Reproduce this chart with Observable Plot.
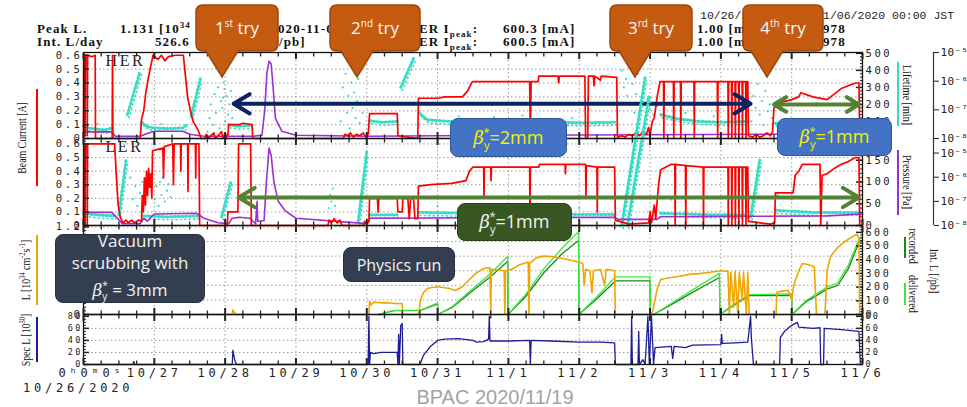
<!DOCTYPE html>
<html><head><meta charset="utf-8">
<script src="https://cdn.jsdelivr.net/npm/d3@7"></script>
<script src="https://cdn.jsdelivr.net/npm/@observablehq/plot@0.6"></script>
<style>
html,body{margin:0;padding:0;background:#fff;}
#root{position:relative;width:967px;height:407px;overflow:hidden;background:#fff;}
.t{position:absolute;white-space:nowrap;line-height:12px;}
.hdr{font-family:'Liberation Serif',serif;font-weight:bold;font-size:13px;letter-spacing:1.1px;color:#111;}
.mono{font-family:'Liberation Mono',monospace;font-size:11.5px;color:#222;}
.rot{position:absolute;white-space:nowrap;font-family:'Liberation Serif',serif;font-size:12px;color:#111;line-height:12px;}
.bar{position:absolute;width:2px;}
.box{position:absolute;box-sizing:border-box;border-radius:8px;display:flex;align-items:center;justify-content:center;text-align:center;font-family:'Open Sans',sans-serif;border-width:1.5px;border-style:solid;}
.beta{font-size:18px;}
.beta i{font-family:'DejaVu Serif',serif;font-style:italic;}
.beta sub{font-size:11px;vertical-align:-5px;}
.beta sup{font-size:11px;vertical-align:8px;margin-left:-6px;}
</style></head>
<body><div id="root"></div>
<script>
// ---------------- data ----------------
const xLabels = ["0ʰ0ᵐ0ˢ","10/27","10/28","10/29","10/30","10/31","11/1","11/2","11/3","11/4","11/5","11/6"];
const dayTicks = d3.range(0, 12);
const minorTicks = d3.range(0, 44).map(i => i / 4).filter(d => d % 1 !== 0);

const herCurrent = [[0,0],[0.005,0.6],[0.018,0.6],[0.02,0.02],[0.025,0.6],[0.05,0.6],[0.053,0.02],[0.058,0.6],[0.12,0.59],[0.165,0.6],[0.17,0],
[0.405,0],[0.41,0.6],[0.415,0],
[0.8,0],[0.82,0.14],[0.85,0.2],[0.88,0.33],[0.91,0.42],[0.94,0.5],[0.97,0.57],[0.98,0.6],[1.05,0.57],[1.1,0.6],[1.15,0.56],[1.2,0.59],[1.3,0.6],[1.41,0.6],[1.44,0.45],[1.47,0.3],[1.51,0.2],[1.55,0.12],[1.62,0.06],[1.66,0],
[1.72,0],[1.73,0.03],[1.75,0],[1.8,0.02],[1.84,0.04],[1.86,0],[1.92,0.03],[1.95,0.05],[1.97,0],[2.0,0.04],[2.02,0.01],[2.04,0.03],[2.05,0.1],[2.2,0.1],[2.25,0.11],[2.38,0.1],[2.39,0],
[3.67,0],[3.69,0.03],[3.73,0.02],[3.77,0.04],[3.81,0.01],[3.85,0.03],[3.9,0.02],[3.95,0.04],[3.99,0.01],[4.02,0.03],[4.04,0.18],[4.43,0.18],[4.44,0.02],[4.72,0],
[4.73,0.29],[5.0,0.29],[5.1,0.3],[5.35,0.3],[5.42,0.34],[5.49,0.41],[5.8,0.41],[6.3,0.41],[6.31,0],[6.32,0.41],[6.42,0.41],[6.43,0.45],[6.7,0.45],[6.71,0.4],[6.72,0.45],[7.08,0.45],[7.09,0],[7.12,0],[7.13,0.45],[7.2,0.45],[7.21,0.38],[7.22,0.45],[7.3,0.42],[7.31,0.45],[7.53,0.44],[7.54,0.01],
[7.6,0.02],[7.65,0.01],[7.7,0.03],[7.75,0.02],[7.8,0.04],[7.85,0.02],[7.9,0.05],[7.95,0.03],[7.98,0.08],[8.0,0.02],[8.03,0.12],[8.06,0.15],[8.1,0.3],[8.14,0.41],[8.19,0.41],[8.195,0],[8.2,0.41],[8.33,0.41],[8.335,0],[8.34,0.41],[8.43,0.41],[8.435,0],[8.44,0.41],[8.62,0.41],[8.625,0],[8.63,0.41],[8.95,0.41],[8.955,0],[8.96,0.41],[9.1,0.41],[9.105,0],[9.11,0.41],[9.15,0.41],[9.155,0],[9.16,0.41],[9.2,0.41],[9.205,0],[9.21,0.41],[9.25,0.41],[9.255,0],[9.26,0.41],[9.3,0.41],[9.305,0],[9.31,0.41],[9.35,0.41],[9.355,0],[9.36,0.41],[9.38,0.41],[9.39,0.02],
[9.45,0.01],[9.5,0.03],[9.55,0.01],[9.6,0.02],[9.65,0.04],[9.7,0.02],[9.73,0.05],[9.75,0.22],[9.85,0.26],[10.0,0.28],[10.1,0.3],[10.13,0.33],[10.3,0.3],[10.5,0.28],[10.6,0.32],[10.7,0.36],[10.8,0.38],[10.9,0.4],[10.95,0.4],[10.96,0]];

const lerCurrent = [[0,0],[0.005,0.6],[0.018,0.6],[0.02,0],[0.025,0.6],[0.05,0.6],[0.053,0],[0.058,0.6],[0.44,0.6],[0.46,0.4],[0.49,0.15],[0.52,0.06],[0.56,0.02],[0.6,0.04],[0.63,0.02],[0.68,0.04],[0.72,0.02],[0.78,0.04],[0.82,0.03],[0.83,0.22],[0.845,0.1],[0.86,0.35],[0.875,0.15],[0.89,0.4],[0.905,0.22],[0.92,0.42],[0.935,0.28],[0.95,0.38],[0.965,0.2],[0.975,0.55],[1.05,0.56],[1.12,0.57],[1.13,0.35],[1.14,0.58],[1.26,0.6],[1.27,0.3],[1.28,0.6],[1.37,0.6],[1.375,0.4],[1.38,0.6],[1.47,0.6],[1.475,0.25],[1.48,0.6],[1.58,0.6],[1.585,0.35],[1.59,0.6],[1.63,0.6],[1.64,0],
[2.03,0],[2.04,0.1],[2.18,0.1],[2.19,0.6],[2.36,0.6],[2.37,0],
[3.45,0],[3.47,0.04],[3.5,0.02],[3.54,0.05],[3.58,0.02],[3.62,0.04],[3.65,0],[3.95,0],[3.97,0.03],[4.0,0.01],[4.03,0.03],[4.04,0.2],[4.15,0.2],[4.16,0.1],[4.17,0.2],[4.43,0.2],[4.44,0.1],[4.5,0.1],[4.51,0.2],[4.58,0.2],[4.6,0.05],[4.62,0.2],[4.66,0.2],[4.68,0.05],[4.72,0.05],[4.73,0.29],[4.9,0.3],[5.2,0.31],[5.4,0.33],[5.45,0.4],[5.5,0.43],[5.65,0.43],[5.655,0.2],[5.66,0.43],[5.75,0.43],[5.755,0.33],[5.76,0.43],[6.3,0.43],[6.305,0],[6.31,0.43],[6.43,0.43],[6.44,0.45],[6.8,0.45],[6.805,0.38],[6.81,0.45],[7.09,0.45],[7.095,0.2],[7.1,0.44],[7.25,0.43],[7.255,0.1],[7.26,0.43],[7.5,0.43],[7.51,0.04],[7.7,0.01],[7.98,0.02],[8.0,0.1],[8.02,0.02],[8.06,0.15],[8.08,0.05],[8.12,0.3],[8.15,0.41],[8.3,0.45],[8.35,0.45],[8.355,0],[8.36,0.45],[8.5,0.44],[8.505,0],[8.51,0.44],[8.75,0.43],[8.755,0],[8.76,0.43],[9.1,0.43],[9.105,0],[9.11,0.43],[9.15,0.43],[9.155,0],[9.16,0.43],[9.2,0.43],[9.205,0],[9.21,0.43],[9.25,0.43],[9.255,0],[9.26,0.43],[9.3,0.43],[9.305,0],[9.31,0.43],[9.35,0.43],[9.355,0],[9.36,0.43],[9.38,0.43],[9.39,0.03],[9.7,0.01],[9.76,0.02],[9.77,0.24],[10.02,0.24],[10.05,0.37],[10.1,0.4],[10.15,0.45],[10.4,0.45],[10.41,0],[10.43,0.37],[10.5,0.38],[10.6,0.42],[10.7,0.45],[10.8,0.47],[10.9,0.5],[10.95,0.5],[10.96,0]];

// lifetime [min]: dotted bands / streaks (series key) and scattered dots
const herLifeLines = [[0,75,"a"],[0.08,60,"a"],[0.2,55,"a"],[0.3,50,"a"],[0.4,62,"a"],
[0.62,140,"b"],[0.8,395,"b"],
[0.82,95,"c"],[0.9,70,"c"],[1.0,62,"c"],[1.2,58,"c"],[1.4,62,"c"],[1.46,80,"c"],
[1.52,130,"d"],[1.65,350,"d"],
[2.05,80,"e"],[2.2,72,"e"],[2.38,78,"e"],
[4.04,105,"f"],[4.2,95,"f"],[4.43,100,"f"],
[4.48,300,"g"],[4.66,470,"g"],
[4.74,150,"h"],[4.85,110,"h"],[5.2,100,"h"],[5.6,95,"h"],[6.0,105,"h"],[6.5,100,"h"],[7.0,92,"h"],[7.5,95,"h"],
[8.15,140,"i"],[8.4,115,"i"],[8.7,100,"i"],[9.0,95,"i"],[9.38,100,"i"],
[9.77,90,"j"],[10.0,70,"j"],[10.5,65,"j"],[10.95,70,"j"]];
const herLifeDots = [[1.75,40],[1.78,120],[1.8,200],[1.83,80],[1.85,260],[1.87,150],[1.9,300],[1.92,60],[1.94,220],[1.96,180],[1.97,240],[1.98,330],[1.99,290],[2.0,100],[2.02,250],[2.04,140],[2.06,200],[2.08,280],[2.1,120],
[3.63,100],[3.66,300],[3.68,200],[3.7,380],[3.72,150],[3.74,250],[3.76,60],[3.78,330],[3.8,180],[3.82,270],[3.84,120],[3.86,220],[3.88,350],[3.9,90],[3.92,200],[3.94,150],
[7.6,400],[7.63,300],[7.66,350],[7.68,250],[7.7,420],[7.73,200],[7.75,320],[7.78,150],[7.8,260],[7.83,380],[7.86,180],[7.9,300],[7.93,120],[7.96,230],[8.0,170],[8.05,140],[8.1,190],
[9.43,100],[9.46,250],[9.49,180],[9.52,320],[9.55,140],[9.58,220],[9.6,80],[9.63,280],[9.66,160],[9.69,200],[9.72,120],
[5.3,130],[5.8,125],[6.2,135],[6.9,120],[8.5,150],[8.9,130],[10.2,95],[10.7,90],[1.1,85],[0.2,85]];
const lerLifeLines = [[0,28,"a"],[0.2,24,"a"],[0.44,22,"a"],
[0.5,25,"b"],[0.6,150,"b"],
[0.85,22,"c"],[1.2,20,"c"],[1.63,22,"c"],
[1.95,20,"d"],[2.08,100,"d"],
[3.88,10,"e"],[4.0,170,"e"],
[4.04,25,"f"],[4.43,25,"f"],
[4.73,30,"g"],[5.5,28,"g"],[6.5,26,"g"],[7.5,25,"g"],
[7.6,0,"h"],[7.93,340,"h"],
[7.68,0,"k"],[7.99,300,"k"],
[8.15,28,"i"],[8.8,25,"i"],[9.38,24,"i"],
[9.42,20,"l"],[9.55,150,"l"],
[9.77,35,"j"],[10.3,30,"j"],[10.95,30,"j"]];
const lerLifeDots = [[0.66,110],[0.7,60],[0.73,90],[0.76,45],[0.8,75],[0.83,100],[1.0,60],[1.03,90],[1.06,45],[1.08,100],[1.1,70],[1.12,110],[1.15,55],[1.18,80],[1.2,95],[1.23,65],[3.46,40],[3.48,70],[3.5,55],[3.52,85],[3.55,45],[8.3,60],[8.5,55],[9.8,70],[10.0,60],[5.0,45],[6.0,42],[7.0,40]];

// pressure [Pa]
const herPressure = [[0,1.7e-8],[0.4,1.7e-8],[0.45,1.2e-8],[0.8,1.2e-8],[0.9,1.5e-8],[1.0,1.8e-8],[1.4,1.8e-8],[1.5,1.4e-8],[1.7,1.2e-8],[2.4,1.2e-8],[2.52,1.3e-8],[2.56,1e-7],[2.59,2e-6],[2.62,5e-6],[2.65,4e-6],[2.68,5e-7],[2.71,5e-8],[2.8,1.8e-8],[3.0,1.3e-8],[4.0,1.2e-8],[6.0,1.3e-8],[8.0,1.35e-8],[11,1.45e-8]];
const lerPressure = [[0,3.5e-8],[0.4,3.5e-8],[0.48,2e-8],[0.55,1.2e-8],[0.8,1.2e-8],[0.85,2e-8],[0.9,1.5e-8],[0.95,2.2e-8],[1.0,3e-8],[1.6,3.2e-8],[1.7,2e-8],[1.9,1.3e-8],[2.05,1.2e-8],[2.1,2e-8],[2.2,2.2e-8],[2.35,2e-8],[2.43,1.2e-8],[2.45,1e-7],[2.46,1.5e-8],[2.55,1.6e-8],[2.58,5e-7],[2.62,1.6e-5],[2.65,8e-6],[2.69,6e-7],[2.75,1e-7],[2.85,4e-8],[3.0,2e-8],[4.0,1.2e-8],[4.05,2e-8],[7.5,2.2e-8],[7.55,1.8e-8],[8.1,1.8e-8],[8.15,2.3e-8],[10.5,2.5e-8],[11,3e-8]];

// luminosity [1e34 /cm2/s]
const lum = [[0,0],[2.1,0],[2.11,0.06],[2.13,0.03],[2.15,0],[4.03,0],[4.04,0.18],[4.06,0.13],[4.1,0.17],[4.2,0.16],[4.3,0.16],[4.4,0.15],[4.5,0.15],[4.51,0],[4.73,0],[4.76,0.2],[4.8,0.3],[4.86,0.36],[5.0,0.38],[5.15,0.36],[5.25,0.33],[5.35,0.38],[5.45,0.48],[5.55,0.57],[5.65,0.63],[5.74,0.64],[5.75,0],[5.76,0.62],[5.94,0.6],[5.95,0],[5.96,0.6],[6.05,0.62],[6.15,0.68],[6.28,0.72],[6.29,0],[6.3,0.7],[6.4,0.78],[6.5,0.8],[6.65,0.79],[6.8,0.76],[6.95,0.73],[7.05,0.7],[7.07,0.4],[7.09,0.62],[7.15,0.6],[7.18,0.3],[7.2,0.6],[7.3,0.62],[7.36,0.4],[7.38,0.62],[7.5,0.6],[7.51,0],[8.02,0],[8.05,0.1],[8.1,0.35],[8.15,0.48],[8.25,0.5],[8.4,0.52],[8.55,0.55],[8.7,0.56],[8.85,0.58],[9.0,0.6],[9.1,0.59],[9.12,0],[9.14,0.58],[9.18,0.1],[9.2,0.59],[9.24,0],[9.26,0.58],[9.3,0.2],[9.32,0.58],[9.36,0],[9.38,0.57],[9.4,0],[9.78,0],[9.79,0.3],[9.85,0.32],[9.95,0.33],[10.0,0.2],[10.03,0.4],[10.1,0.6],[10.15,0.7],[10.25,0.68],[10.32,0.65],[10.35,0],[10.47,0],[10.5,0.6],[10.55,0.8],[10.65,0.92],[10.75,1.0],[10.85,1.06],[10.92,1.1],[10.95,1.05],[10.96,0]];

// integrated luminosity [/pb]
const intDelivered = [[4.17,0],[4.38,30],[4.76,32],[5.0,84],[5.001,0],[5.2,55],[5.5,190],[5.75,300],[5.99,425],[5.995,0],[6.25,150],[6.5,335],[6.75,480],[6.99,605],[6.995,0],[7.25,130],[7.51,275],[8.0,275],[8.005,0],[8.05,0],[8.3,80],[8.6,180],[8.98,300],[8.985,0],[9.2,80],[9.4,145],[10.0,150],[10.005,0],[10.2,100],[10.5,200],[10.65,230],[10.8,360],[10.95,550],[11,560]];
const intRecorded = [[4.17,0],[4.38,28],[4.76,30],[5.0,78],[5.001,0],[5.2,50],[5.5,175],[5.75,278],[5.99,387],[5.995,0],[6.25,135],[6.5,305],[6.75,440],[6.99,540],[6.995,0],[7.25,115],[7.51,245],[8.0,245],[8.005,0],[8.05,0],[8.3,72],[8.6,162],[8.98,270],[8.985,0],[9.2,74],[9.4,138],[10.0,140],[10.005,0],[10.2,92],[10.5,185],[10.65,212],[10.8,335],[10.95,525],[11,535]];

// specific luminosity [1e30]
const specL = [[0,0],[0.7,0],[0.71,5],[0.72,0],[2.1,0],[2.11,24],[2.13,10],[2.15,2],[2.17,0],[4.02,0],[4.03,80],[4.04,0],[4.05,20],[4.1,18],[4.2,20],[4.43,20],[4.44,0],[4.45,50],[4.46,0],[4.48,65],[4.5,68],[4.51,0],[4.75,0],[4.8,15],[4.9,30],[5.0,40],[5.1,42],[5.3,43],[5.5,40],[5.55,37],[5.65,38],[5.72,42],[5.73,80],[5.74,39],[6.0,39],[6.3,40],[6.31,0],[6.32,40],[6.6,39],[7.0,37],[7.3,37],[7.5,36],[7.51,0],[7.73,0],[7.74,80],[7.75,0],[7.83,0],[7.84,55],[7.85,0],[7.9,8],[7.93,0],[7.97,80],[7.99,0],[8.02,80],[8.05,0],[8.07,28],[8.3,30],[8.32,10],[8.34,30],[8.5,28],[8.6,32],[9.0,33],[9.01,50],[9.02,35],[9.2,36],[9.38,37],[9.42,80],[9.43,45],[9.46,0],[9.83,0],[9.84,45],[9.9,55],[10.0,65],[10.08,70],[10.1,62],[10.3,60],[10.4,61],[10.41,0],[10.45,0],[10.46,60],[10.7,58],[10.95,55],[10.97,0]];

// beta* period arrows (day span, value in panel units)
const herArrows = [{x1:2.12,x2:9.42,y:0.25,color:"#0b2460"},{x1:9.75,x2:10.95,y:0.245,color:"#548235"}];
const lerArrows = [{x1:2.19,x2:10.95,y:0.206,color:"#548235"}];

// ---------------- layout ----------------
const root = document.getElementById("root");
const W = 967, H = 407, XL = 83, XR = 862;
const P = {her:[52,138], ler:[138,225], lum:[225,314], spec:[314,364]};
const baseStyle = "position:absolute;left:0;top:0;overflow:visible;background:transparent;font-family:'DejaVu Sans Mono',monospace;font-size:10.5px;color:#222;";

function layer(panel, y, marks, ls = 2.6, extra = "") {
  const [t, b] = P[panel];
  const svg = Plot.plot({
    width: W, height: H, marginLeft: XL, marginRight: W - XR, marginTop: t, marginBottom: H - b,
    x: {domain: [0, 11], axis: null},
    y: {...y, axis: null},
    style: baseStyle + `letter-spacing:${ls}px;` + extra,
    marks
  });
  root.appendChild(svg);
}
// tick-only axes (no text: fill none)
const tk = {fill: "none", label: null};
const grid = (yt) => [
  Plot.ruleX(dayTicks.slice(1, -1), {stroke: "#9a9a9a", strokeDasharray: "1.5,2.5"}),
  Plot.ruleY(yt, {stroke: "#9a9a9a", strokeDasharray: "1.5,2.5"})
];
const xTicks = () => [
  Plot.axisX({...tk, anchor: "top", ticks: dayTicks, tickSize: -6, strokeWidth: 2}),
  Plot.axisX({...tk, anchor: "top", ticks: minorTicks, tickSize: -3.5, strokeWidth: 1.3}),
  Plot.axisX({...tk, anchor: "bottom", ticks: dayTicks, tickSize: -6, strokeWidth: 2}),
  Plot.axisX({...tk, anchor: "bottom", ticks: minorTicks, tickSize: -3.5, strokeWidth: 1.3})
];
// labels: the values that get a text; ticks: where major ticks go
const leftAxis = (labels, fmt, minor, ticks = labels, fontSize = 10.5) => [
  Plot.axisY({anchor: "left", ticks: labels, tickSize: 0, tickPadding: 1, tickFormat: fmt, label: null, fontSize}),
  Plot.axisY({...tk, anchor: "left", ticks: minor, tickSize: -3}),
  Plot.axisY({...tk, anchor: "left", ticks: ticks, tickSize: -6, strokeWidth: 1.5})
];
const rightAxis = (labels, fmt, minor, fontSize = 10.5) => [
  Plot.axisY({anchor: "right", ticks: labels, tickSize: 0, tickPadding: 3, tickFormat: fmt, label: null, fontSize}),
  Plot.axisY({...tk, anchor: "right", ticks: minor, tickSize: -3}),
  Plot.axisY({...tk, anchor: "right", ticks: labels, tickSize: -7, strokeWidth: 1.5})
];
const logAxis = () => [
  Plot.ruleX([11], {dx: 71, stroke: "#333", strokeWidth: 1.2}),
  Plot.axisY({anchor: "right", dx: 71, ticks: [1e-8, 1e-7, 1e-6, 1e-5], tickSize: 5, tickPadding: 2,
    tickFormat: d => "10⁻" + "⁰¹²³⁴⁵⁶⁷⁸⁹"[Math.round(-Math.log10(d))], label: null, fontSize: 11})
];
const arrows = (list) => list.flatMap(a => {
  const m = (a.x1 + a.x2) / 2;
  return [
    Plot.arrow([a], {x1: () => m, x2: "x1", y1: "y", y2: "y", stroke: "color", strokeWidth: 4, headLength: 7, headAngle: 62}),
    Plot.arrow([a], {x1: () => m, x2: "x2", y1: "y", y2: "y", stroke: "color", strokeWidth: 4, headLength: 7, headAngle: 62})
  ];
});
const f1 = d => d < 1e-9 ? "0" : d.toFixed(1);
const cyan = "#35dcc4", purple = "#9b30d9";
const lifeMarks = (lines, dots) => [
  Plot.line(lines, {x: d => d[0], y: d => d[1], z: d => d[2], stroke: cyan, strokeWidth: 3, strokeDasharray: "1.2,2.6"}),
  Plot.line(lines, {x: d => d[0], y: d => d[1], z: d => d[2], stroke: cyan, strokeWidth: 1.6, strokeDasharray: "1,3.4", dy: 3, dx: 1.5}),
  Plot.dot(dots, {x: d => d[0], y: d => d[1], r: 1.1, fill: cyan})
];

// ---- HER ----
layer("her", {domain: [0, 0.62]}, grid(d3.range(1, 6).map(i => i / 10)));
layer("her", {domain: [0, 505]}, [
  ...lifeMarks(herLifeLines, herLifeDots),
  ...rightAxis(d3.range(0, 501, 100), d => d, d3.range(0, 501, 20))
]);
layer("her", {type: "log", domain: [1e-8, 1e-5]}, [
  Plot.line(herPressure, {x: d => d[0], y: d => d[1], stroke: purple, strokeWidth: 1.6}),
  ...logAxis()
], 0.3);
layer("her", {domain: [0, 0.62]}, [
  Plot.text(["HER"], {frameAnchor: "top-left", dx: 22, dy: 2, lineAnchor: "top", textAnchor: "start", fontFamily: "Liberation Serif", fontSize: 16, fill: "#222"}),
  Plot.line(herCurrent, {x: d => d[0], y: d => d[1], stroke: "#ff0000", strokeWidth: 1.7}),
  Plot.frame({stroke: "#111", strokeWidth: 1.3}),
  ...xTicks(),
  ...leftAxis(d3.range(0, 7).map(i => i / 10), f1, d3.range(0, 31).map(i => i / 50)),
  ...arrows(herArrows)
]);

// ---- LER ----
layer("ler", {domain: [0, 0.64]}, grid(d3.range(1, 7).map(i => i / 10)));
layer("ler", {domain: [0, 200]}, [
  ...lifeMarks(lerLifeLines, lerLifeDots),
  ...rightAxis([0, 50, 100, 150], d => d, d3.range(0, 201, 10))
]);
layer("ler", {type: "log", domain: [1e-8, 4e-5]}, [
  Plot.line(lerPressure, {x: d => d[0], y: d => d[1], stroke: purple, strokeWidth: 1.6}),
  ...logAxis()
], 0.3);
layer("ler", {domain: [0, 0.64]}, [
  Plot.text(["LER"], {frameAnchor: "top-left", dx: 22, dy: 2, lineAnchor: "top", textAnchor: "start", fontFamily: "Liberation Serif", fontSize: 16, fill: "#222"}),
  Plot.line(lerCurrent, {x: d => d[0], y: d => d[1], stroke: "#ff0000", strokeWidth: 1.7}),
  Plot.frame({stroke: "#111", strokeWidth: 1.3}),
  ...xTicks(),
  ...leftAxis(d3.range(0, 7).map(i => i / 10), f1, d3.range(0, 33).map(i => i / 50)),
  ...arrows(lerArrows)
]);

// ---- Luminosity ----
layer("lum", {domain: [0, 1.22]}, grid(d3.range(1, 7).map(i => i / 5)));
layer("lum", {domain: [0, 650]}, [
  Plot.line(intRecorded, {x: d => d[0], y: d => d[1], stroke: "#168a16", strokeWidth: 1.3}),
  Plot.line(intDelivered, {x: d => d[0], y: d => d[1], stroke: "#3de83d", strokeWidth: 1.3}),
  ...rightAxis(d3.range(0, 601, 100), d => d, d3.range(0, 641, 20), 10)
]);
layer("lum", {domain: [0, 1.22]}, [
  Plot.line(lum, {x: d => d[0], y: d => d[1], stroke: "#f0a500", strokeWidth: 1.6}),
  Plot.frame({stroke: "#111", strokeWidth: 1.3}),
  ...xTicks(),
  // labels 0.2 … 1.0 sit behind the "Vacuum scrubbing" box, so only 0 and 1.2 are written
  ...leftAxis([0, 1.2], f1, d3.range(0, 25).map(i => i / 20), d3.range(0, 7).map(i => i / 5))
]);

// ---- Specific luminosity ----
layer("spec", {domain: [0, 83]}, grid([20, 40, 60]));
layer("spec", {domain: [0, 83]}, [
  Plot.line(specL, {x: d => d[0], y: d => d[1], stroke: "#1c1c99", strokeWidth: 1.3}),
  Plot.frame({stroke: "#111", strokeWidth: 1.3}),
  ...xTicks(),
  ...leftAxis([0, 20, 40, 60, 80], d => d, d3.range(0, 81, 5), [0, 20, 40, 60, 80], 8.5),
  ...rightAxis([0, 20, 40, 60, 80], d => d, d3.range(0, 81, 5), 8.5)
], 2.2);
layer("spec", {domain: [0, 83]}, [
  Plot.axisX({anchor: "bottom", ticks: d3.range(1, 12), tickSize: 0, tickPadding: 4, tickFormat: i => xLabels[i], label: null, fontSize: 12}),
  Plot.axisX({anchor: "bottom", ticks: [0], tickSize: 0, tickPadding: 4, dx: 8, tickFormat: i => xLabels[i], label: null, fontSize: 12})
], 3.8);

// ---------------- HTML annotations ----------------
function el(cls, html, css) {
  const d = document.createElement("div");
  d.className = cls; d.innerHTML = html; d.style.cssText = css;
  root.appendChild(d); return d;
}
// header (only the parts the callouts leave visible)
el("t hdr", "Peak L.", "left:37px;top:23px");
el("t hdr", "1.131 [10<sup style='font-size:9px;line-height:0'>34</sup>", "left:120px;top:23px");
el("t hdr", "020-11-0", "left:278px;top:23px");
el("t hdr", "ER I<sub style='font-size:9px;line-height:0'>peak</sub>:", "left:419px;top:23px");
el("t hdr", "600.3 [mA]", "left:503px;top:23px");
el("t hdr", "1.00 [m", "left:697px;top:23px");
el("t hdr", "978", "left:823px;top:23px");
el("t hdr", "Int. L/day", "left:37px;top:36px");
el("t hdr", "526.6", "left:155px;top:36px");
el("t hdr", "/pb]", "left:279px;top:36px");
el("t hdr", "ER I<sub style='font-size:9px;line-height:0'>peak</sub>:", "left:419px;top:36px");
el("t hdr", "600.5 [mA]", "left:503px;top:36px");
el("t hdr", "1.00 [m", "left:697px;top:36px");
el("t hdr", "978", "left:823px;top:36px");
el("t mono", "10/26/2", "left:700px;top:10px");
el("t mono", "1/06/2020 00:00 JST", "left:823px;top:10px");
el("t mono", "10/26/2020", "left:23px;top:382px;font-family:'DejaVu Sans Mono';font-size:12px;letter-spacing:3.8px;color:#222");
el("t", "BPAC 2020/11/19", "left:405px;width:180px;text-align:center;top:387px;line-height:20px;font-family:'Liberation Sans',sans-serif;font-size:20px;color:#a3a3a3");

// rotated axis titles and colour keys
function rot(html, cx, cy, deg, sx, css = "") {
  return el("rot", html, `left:${cx}px;top:${cy}px;transform:translate(-50%,-50%) rotate(${deg}deg) scale(${sx},1);` + css);
}
rot("Beam Current [A]", 22, 138, -90, 0.82);
rot("L [10<sup style='font-size:8px'>34</sup> cm<sup style='font-size:8px'>-2</sup>s<sup style='font-size:8px'>-1</sup>]", 24, 270, -90, 0.82);
rot("Spec L [10<sup style='font-size:8px'>30</sup>]", 24, 340, -90, 0.82);
rot("Lifetime [min]", 907, 95, 90, 0.85);
rot("Pressure [Pa]", 907, 182, 90, 0.85);
rot("recorded", 913, 246, 90, 0.85);
rot("delivered", 913, 294, 90, 0.85);
rot("Int. L [/pb]", 934, 271, 90, 0.85);
const bars = [[36,89,97,"#ff0000"],[36,235,70,"#f0a500"],[36,317,45,"#1c1c99"],[897,62,64,cyan],[897,150,65,purple],[904,237,21,"#168a16"],[904,283,22,"#3de83d"]];
bars.forEach(([x, y, h, c]) => el("bar", "", `left:${x}px;top:${y}px;height:${h}px;background:${c}`));

// label boxes
const betaTxt = (v) => `<span class="beta"><i>β</i><sub>y</sub><sup>*</sup>=${v}</span>`;
el("box", betaTxt("2mm"), "left:450px;top:118px;width:117px;height:39px;background:#4472c4;border-color:#2f5597;color:#f5f000");
el("box", betaTxt("1mm"), "left:777px;top:118px;width:115px;height:38px;background:#4472c4;border-color:#2f5597;color:#f5f000");
el("box", betaTxt("1mm"), "left:457px;top:203px;width:115px;height:38px;background:#385723;border-color:#2a4219;color:#f2f2f2");
el("box", "<div style='line-height:22px;font-size:17px'>Vacuum<br>scrubbing with<br><span style='font-size:17px'><i style=\"font-family:'DejaVu Serif'\">β</i><sub style='font-size:10px;vertical-align:-4px'>y</sub><sup style='font-size:10px;vertical-align:7px;margin-left:-5px'>*</sup> = 3mm</span></div>", "left:55px;top:234px;width:150px;height:69px;background:#333f50;border-color:#27303d;color:#f2f2f2");
el("box", "<span style='font-size:16px'>Physics run</span>", "left:343px;top:247px;width:112px;height:35px;background:#333f50;border-color:#27303d;color:#f2f2f2");

// callouts
const callouts = [{n:"1",s:"st",x0:196,x1:278,tip:222},{n:"2",s:"nd",x0:330,x1:420,tip:357},{n:"3",s:"rd",x0:610,x1:692,tip:635},{n:"4",s:"th",x0:743,x1:823,tip:767}];
const ann = d3.create("svg").attr("width", W).attr("height", H).style("position", "absolute").style("left", 0).style("top", 0);
callouts.forEach(c => {
  const y0 = 5, y1 = 51, r = 7, ty = 77;
  const p = `M${c.x0 + r},${y0}H${c.x1 - r}Q${c.x1},${y0} ${c.x1},${y0 + r}V${y1 - r}Q${c.x1},${y1} ${c.x1 - r},${y1}H${c.tip + 16}L${c.tip},${ty}L${c.tip - 16},${y1}H${c.x0 + r}Q${c.x0},${y1} ${c.x0},${y1 - r}V${y0 + r}Q${c.x0},${y0} ${c.x0 + r},${y0}Z`;
  ann.append("path").attr("d", p).attr("fill", "#c55a11").attr("stroke", "#9e470d").attr("stroke-width", 1.5);
  const t = ann.append("text").attr("x", (c.x0 + c.x1) / 2).attr("y", 34).attr("text-anchor", "middle")
    .attr("fill", "#f7f7f7").attr("font-family", "Open Sans, sans-serif").attr("font-size", 17);
  t.append("tspan").text(c.n);
  t.append("tspan").attr("dy", -7).attr("font-size", 10).text(c.s);
  t.append("tspan").attr("dy", 7).text(" try");
});
root.appendChild(ann.node());
</script>
</body></html>
